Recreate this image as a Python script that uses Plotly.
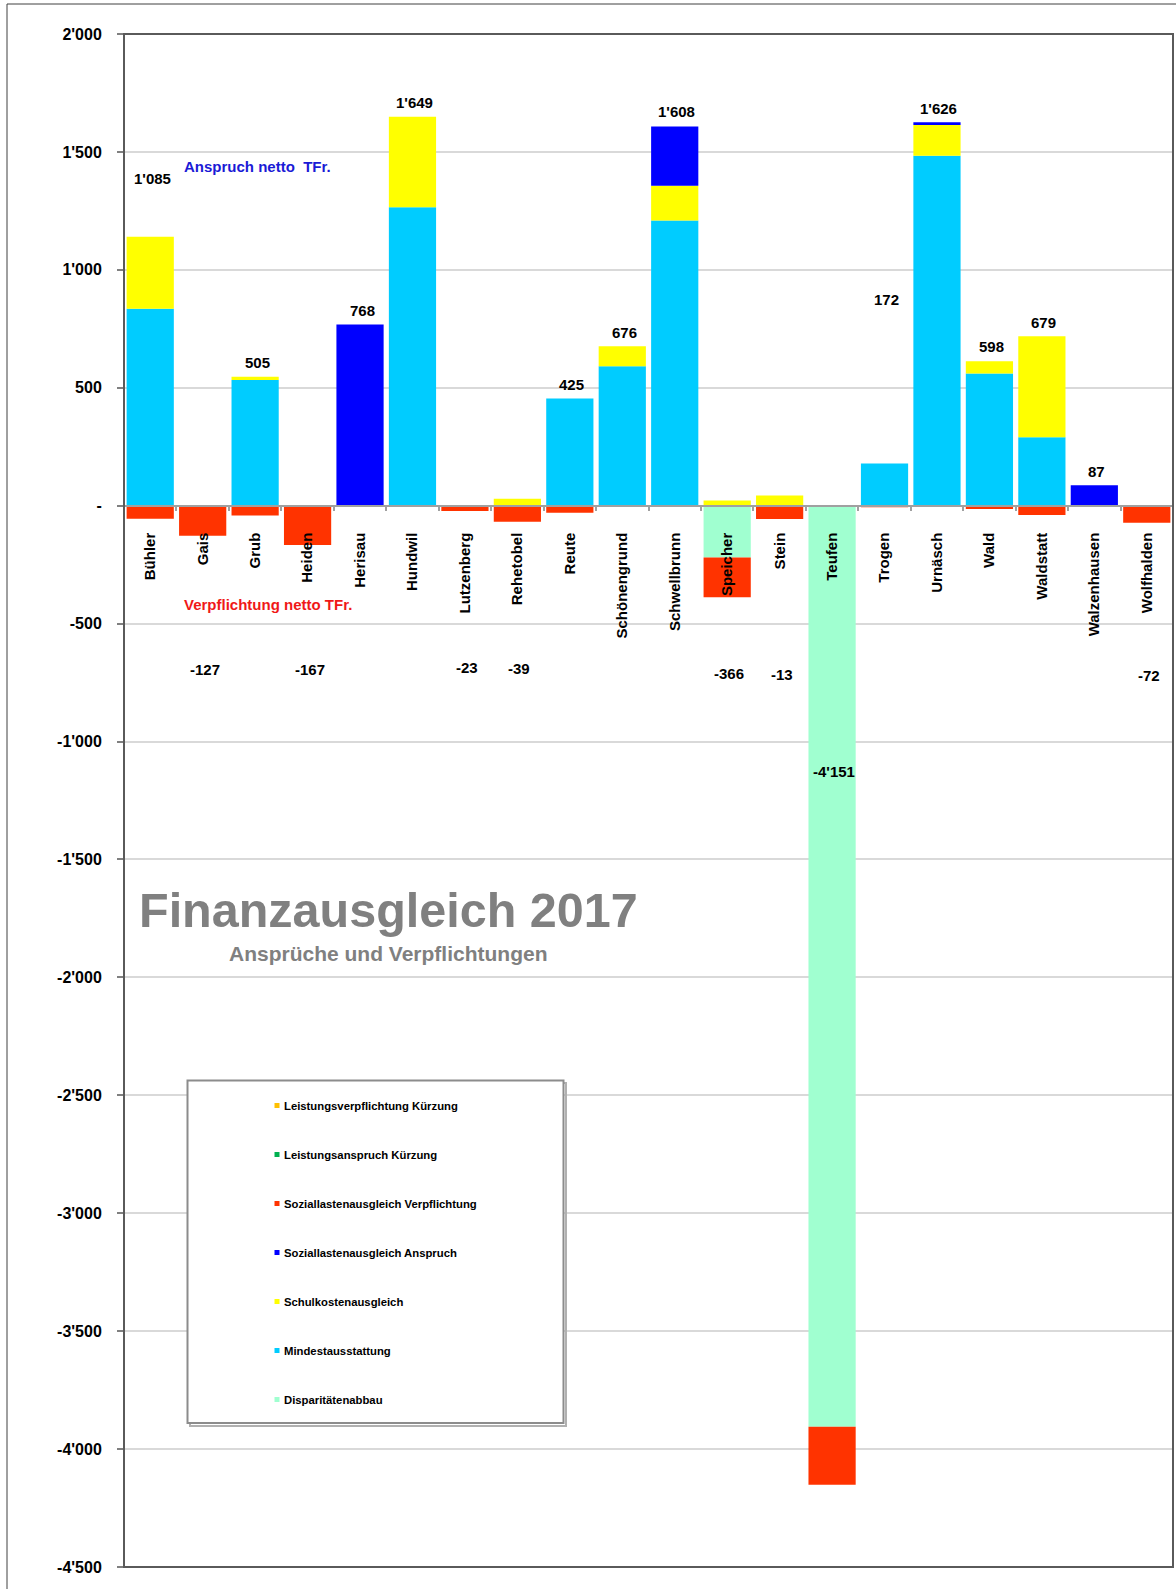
import plotly.graph_objects as go

# ---------------- data ----------------
communes = ["Bühler", "Gais", "Grub", "Heiden", "Herisau", "Hundwil", "Lutzenberg",
            "Rehetobel", "Reute", "Schönengrund", "Schwellbrunn", "Speicher", "Stein",
            "Teufen", "Trogen", "Urnäsch", "Wald", "Waldstatt", "Walzenhausen", "Wolfhalden"]

mindestausstattung = [835, 0, 533, 0, 0, 1265, 0, 0, 455, 591, 1209, 0, 0, 0, 179, 1484, 560, 290, 0, 0]
schulkosten = [305, 0, 14, 0, 0, 384, 0, 29, 0, 85, 148, 22, 43, 0, 0, 130, 52, 428, 0, 0]
sozial_anspruch = [0, 0, 0, 0, 768, 0, 0, 0, 0, 0, 251, 0, 0, 0, 0, 12, 0, 0, 87, 0]
leistung_anspruch_kuerzung = [0, 0, 0, 0, 0, 0, 0, 0, 0, 0, 0, 0, 0, 0, 0, 0, 0, 0, 0, 0]
disparitaet = [0, 0, 0, 0, 0, 0, 0, 0, 0, 0, 0, -220, 0, -3905, 0, 0, 0, 0, 0, 0]
sozial_verpflichtung = [-55, -127, -42, -167, 0, 0, -23, -68, -30, 0, 0, -168, -56, -246, -7, 0, -14, -39, 0, -72]
leistung_verpflichtung_kuerzung = [0, 0, 0, 0, 0, 0, 0, 0, 0, 0, 0, 0, 0, 0, 0, 0, 0, 0, 0, 0]

# where the net-value labels sit (data units), as placed in the original
label_y = [1388, -695, 606, -695, 826, 1710, -686, -690, 512, 735,
           1672, -713, -717, -1125, 873, 1684, 675, 778, 147, -721]

tick_vals = [2000, 1500, 1000, 500, 0, -500, -1000, -1500, -2000, -2500, -3000, -3500, -4000, -4500]
tick_text = ["2'000", "1'500", "1'000", "500", "-", "-500", "-1'000", "-1'500", "-2'000",
             "-2'500", "-3'000", "-3'500", "-4'000", "-4'500"]

# ---------------- styles ----------------
C_MIN = "#00CCFF"
C_SCH = "#FFFF00"
C_SLA = "#0000FF"
C_LAK = "#00B050"
C_DIS = "#A0FFD0"
C_SLV = "#FF3300"
C_LVK = "#FFC000"

FONT = "Liberation Sans, Arial, sans-serif"
W, H = 1176, 1589
L, R, T, B = 124, 3, 34, 22
PW, PH = W - L - R, H - T - B


def px_x(p):
    return (p - L) / PW


def px_y(p):
    return (H - B - p) / PH


def fmt(v):
    return f"{v:,}".replace(",", "'")


series = [
    ("Mindestausstattung", mindestausstattung, C_MIN),
    ("Schulkostenausgleich", schulkosten, C_SCH),
    ("Soziallastenausgleich Anspruch", sozial_anspruch, C_SLA),
    ("Leistungsanspruch Kürzung", leistung_anspruch_kuerzung, C_LAK),
    ("Disparitätenabbau", disparitaet, C_DIS),
    ("Soziallastenausgleich Verpflichtung", sozial_verpflichtung, C_SLV),
    ("Leistungsverpflichtung Kürzung", leistung_verpflichtung_kuerzung, C_LVK),
]

fig = go.Figure()
for name, vals, col in series:
    fig.add_trace(go.Bar(x=communes, y=vals, name=name, marker=dict(color=col, line=dict(width=0)),
                         showlegend=False))

totals = [sum(v[i] for _, v, _ in series) for i in range(len(communes))]

annotations = []
for c, tot, ly in zip(communes, totals, label_y):
    annotations.append(dict(x=c, y=ly, xref="x", yref="y", text=fmt(tot), showarrow=False,
                            xshift=2, font=dict(family=FONT, size=15, color="black", weight="bold")))

# titles and side texts
annotations += [
    dict(x=0.252, y=px_y(910), xref="paper", yref="paper", text="Finanzausgleich 2017",
         showarrow=False, xanchor="center", yanchor="middle",
         font=dict(family=FONT, size=48.5, color="#808080", weight="bold")),
    dict(x=0.252, y=px_y(953), xref="paper", yref="paper", text="Ansprüche und Verpflichtungen",
         showarrow=False, xanchor="center", yanchor="middle",
         font=dict(family=FONT, size=21, color="#808080", weight="bold")),
    dict(x=px_x(182), y=px_y(166), xref="paper", yref="paper", text="Anspruch netto  TFr.",
         showarrow=False, xanchor="left", yanchor="middle",
         font=dict(family=FONT, size=15, color="#1A1AD6", weight="bold")),
    dict(x=px_x(182), y=px_y(604), xref="paper", yref="paper", text="Verpflichtung netto TFr.",
         showarrow=False, xanchor="left", yanchor="middle",
         font=dict(family=FONT, size=15, color="#F01818", weight="bold")),
]

shapes = [
    # outer picture border
    dict(type="rect", xref="paper", yref="paper", x0=px_x(7), x1=1.02, y0=-0.05, y1=px_y(4),
         line=dict(color="#404040", width=1), layer="below"),
    # plot frame
    dict(type="rect", xref="paper", yref="paper", x0=0, x1=1, y0=0, y1=1,
         line=dict(color="#5A5A5A", width=2)),
    # legend box shadow + box
    dict(type="rect", xref="paper", yref="paper", x0=px_x(190), x1=px_x(566), y0=px_y(1426), y1=px_y(1083),
         line=dict(color="#B0B0B0", width=2), fillcolor="rgba(0,0,0,0)"),
    dict(type="rect", xref="paper", yref="paper", x0=px_x(187.5), x1=px_x(563.5), y0=px_y(1423), y1=px_y(1080.5),
         line=dict(color="#8C8C8C", width=2), fillcolor="white"),
]

legend_order = [6, 3, 5, 2, 1, 0, 4]
row_y = [1105.5, 1154.5, 1203.5, 1252.5, 1301.5, 1350.5, 1399.5]
for idx, ry in zip(legend_order, row_y):
    name, _, col = series[idx]
    shapes.append(dict(type="rect", xref="paper", yref="paper", x0=px_x(274.5), x1=px_x(279.5),
                       y0=px_y(ry + 2.5), y1=px_y(ry - 2.5), line=dict(width=0), fillcolor=col))
    annotations.append(dict(x=px_x(281.5), y=px_y(ry), xref="paper", yref="paper", text=name,
                            showarrow=False, xanchor="left", yanchor="middle",
                            font=dict(family=FONT, size=11.3, color="black", weight="bold")))

zero_pos = (0 - tick_vals[-1]) / (tick_vals[0] - tick_vals[-1])

fig.update_layout(
    width=W, height=H,
    margin=dict(l=L, r=R, t=T, b=B, pad=0),
    paper_bgcolor="white", plot_bgcolor="white",
    barmode="relative", bargap=0.1,
    showlegend=False,
    annotations=annotations,
    shapes=shapes,
    xaxis=dict(anchor="free", position=zero_pos, range=[-0.5, 19.5], showgrid=False,
               showline=True, linecolor="#A0A0A0", linewidth=2, layer="above traces",
               ticks="outside", tickson="boundaries", ticklen=4, tickcolor="#A0A0A0", tickwidth=2,
               tickangle=-90, ticklabelstandoff=20,
               tickfont=dict(family=FONT, size=15, color="black", weight="bold")),
    yaxis=dict(range=[tick_vals[-1], tick_vals[0]], tickvals=tick_vals, ticktext=tick_text,
               showgrid=True, gridcolor="#D9D9D9", gridwidth=1.5, zeroline=False, showline=False,
               ticks="outside", ticklen=6, tickcolor="#808080", tickwidth=1.5,
               ticklabelstandoff=12,
               tickfont=dict(family=FONT, size=16, color="black", weight="bold")),
)

fig.write_html("out.html", config={"displayModeBar": False},
               post_script="document.body.style.margin='0';document.body.style.padding='0';"
                           "document.documentElement.style.overflow='hidden';"
                           "document.body.style.overflow='hidden';")
